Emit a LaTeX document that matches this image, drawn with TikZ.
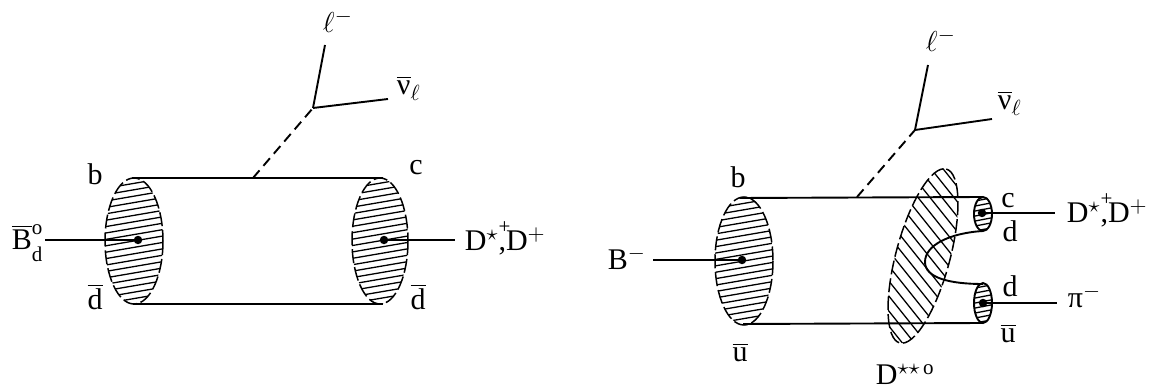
\documentclass[tikz,border=0pt]{standalone}
\usepackage{amsmath}
\usepackage{fontspec}
\setmainfont{Liberation Serif}
\begin{document}
\begin{tikzpicture}[x=0.5pt,y=-0.5pt,line width=0.95pt,
    lab/.style={font=\fontsize{15}{18}\selectfont,inner sep=0pt,anchor=base},
    hatch/.style={line width=0.65pt},
    rim/.style={line width=0.75pt,dash pattern=on 7pt off 2pt},
    wline/.style={dash pattern=on 5pt off 3pt}]
  \useasboundingbox (0,0) rectangle (1153,389);

  %% B0bar -> (D*+, D+) l- nubar
  % BLOBS
      % B end (b, dbar)
      \begin{scope}
        \clip (134,241) ellipse [x radius=29, y radius=63];
        \foreach \k in {0,...,26}
          \draw[hatch] (100,{170+6.4*\k}) -- (170,{158+6.4*\k});
      \end{scope}
      \draw[rim] (134,241) ellipse [x radius=29, y radius=63];
      \draw[fill] (138,240) circle (1.6pt)
      +(0,0) coordinate (qB)   % dot of the B
      ;

      % D end (c, dbar)
      \begin{scope}
        \clip (380,241) ellipse [x radius=28, y radius=63];
        \foreach \k in {0,...,26}
          \draw[hatch] (345,{170+6.4*\k}) -- (415,{158+6.4*\k});
      \end{scope}
      \draw[rim] (380,241) ellipse [x radius=28, y radius=63];
      \draw[fill] (384,240) circle (1.6pt)
      +(0,0) coordinate (qD)   % dot of the D
      ;

  % QUARK LINES
      \coordinate (b1) at (132,178);
      \coordinate (c1) at (383,178);
      \coordinate (d1) at (133,304);
      \coordinate (d2) at (383,304);
      \draw (b1) -- (c1);
      \draw (d1) -- (d2);

  % W AND LEPTONS
      \coordinate (w1) at (253,178);
      \coordinate (v1) at (313,108);
      \coordinate (l1) at (325,45);
      \coordinate (n1) at (388,99);
      \draw[wline] (w1) -- (v1);
      \draw (v1) -- (l1);
      \draw (v1) -- (n1);

  % MESONS
      \coordinate (inB) at (45,240);
      \coordinate (outD) at (455,240);
      \draw (inB) -- (qB);
      \draw (qD) -- (outD);
      \node[lab,anchor=base west] (B0) at (11,250)
        {$\overline{\text{B}}{}^{\raisebox{0.4ex}{\fontsize{10.5}{12}\selectfont o}}_{\raisebox{-0.3ex}{\fontsize{10.5}{12}\selectfont d}}$};
      \node[lab,anchor=base west] (Dp) at (464,251)
        {D$^{\star}$\rlap{\raisebox{1.3ex}{\fontsize{10.5}{12}\selectfont +}},D$^{+}$};

  % LABELS
      \node[lab] (lb1) at (95,185) {b};
      \node[lab] (lc1) at (416,175) {c};
      \node[lab] (ld1) at (95,310) {$\overline{\text{d}}$};
      \node[lab] (ld2) at (418,310) {$\overline{\text{d}}$};
      \node[lab,anchor=base west] (ll1) at (322,33) {$\ell^{-}$};
      \node[lab,anchor=base west] (ln1) at (396,95) {$\overline{\text{ν}}_{\ell}$};

  %% B- -> D**0 -> (D*+, D+) pi-, l- nubar
  % BLOBS
      % B end (b, ubar)
      \begin{scope}
        \clip (744,261) ellipse [x radius=29, y radius=64];
        \foreach \k in {0,...,26}
          \draw[hatch] (710,{190+6.4*\k}) -- (780,{178+6.4*\k});
      \end{scope}
      \draw[rim] (744,261) ellipse [x radius=29, y radius=64];
      \draw[fill] (742,260) circle (1.6pt)
      +(0,0) coordinate (qBm)   % dot of the B-
      ;

      % D** (tilted)
      \begin{scope}
        \clip[rotate around={75:(923,256)}] (923,256) ellipse [x radius=90, y radius=27];
        \foreach \k in {0,...,22}
          \draw[hatch] ({736+12*\k},150) -- ({896+12*\k},350);
      \end{scope}
      \draw[rim,rotate around={75:(923,256)}] (923,256) ellipse [x radius=90, y radius=27];

      % end of the D (c, d)
      \begin{scope}
        \clip (983,214) ellipse [x radius=9, y radius=17];
        \foreach \k in {0,...,9}
          \draw[hatch] (970,{197+5*\k}) -- (996,{192+5*\k});
      \end{scope}
      \draw (983,214) ellipse [x radius=9, y radius=17];
      \draw[fill] (982,213) circle (1.6pt)
      +(0,0) coordinate (qDp)   % dot of the D
      ;

      % end of the pi (d, ubar)
      \begin{scope}
        \clip (983,303) ellipse [x radius=9, y radius=20];
        \foreach \k in {0,...,10}
          \draw[hatch] (970,{284+5*\k}) -- (996,{279+5*\k});
      \end{scope}
      \draw (983,303) ellipse [x radius=9, y radius=20];
      \draw[fill] (983,303) circle (1.6pt)
      +(0,0) coordinate (qPi)   % dot of the pi
      ;

  % QUARK LINES
      \coordinate (b2) at (740,198);
      \coordinate (c2) at (983,197);
      \coordinate (u2) at (743,324);
      \coordinate (u3) at (983,323);
      \draw (b2) -- (c2);
      \draw (u2) -- (u3);
      % d dbar pair
      \draw (983,231) .. controls (950,233) and (925,245) .. (925,262)
            .. controls (925,278) and (950,284) .. (983,284);

  % W AND LEPTONS
      \coordinate (w2) at (857,197);
      \coordinate (v2) at (915,130);
      \coordinate (l2) at (928,65);
      \coordinate (n2) at (992,119);
      \draw[wline] (w2) -- (v2);
      \draw (v2) -- (l2);
      \draw (v2) -- (n2);

  % MESONS
      \coordinate (inBm) at (653,260);
      \coordinate (outDp) at (1055,213);
      \coordinate (outPi) at (1057,303);
      \draw (inBm) -- (qBm);
      \draw (qDp) -- (outDp);
      \draw (qPi) -- (outPi);
      \node[lab,anchor=base west] (Bm) at (607,270) {B$^{-}$};
      \node[lab,anchor=base west] (Dp2) at (1066,223)
        {D$^{\star}$\rlap{\raisebox{1.3ex}{\fontsize{10.5}{12}\selectfont +}},D$^{+}$};
      \node[lab,anchor=base west] (Pim) at (1067,308) {π$^{-}$};
      \node[lab,anchor=base west] (Dss) at (875,385)
        {D$^{\star\star\,\text{o}}$};

  % LABELS
      \node[lab] (lb2) at (738,188) {b};
      \node[lab] (lu2) at (740,362) {$\overline{\text{u}}$};
      \node[lab] (lc2) at (1008,208) {c};
      \node[lab] (ld3) at (1010,242) {d};
      \node[lab] (ld4) at (1010,297) {d};
      \node[lab] (lu3) at (1008,343) {$\overline{\text{u}}$};
      \node[lab,anchor=base west] (ll2) at (925,52) {$\ell^{-}$};
      \node[lab,anchor=base west] (ln2) at (997,110) {$\overline{\text{ν}}_{\ell}$};
\end{tikzpicture}
\end{document}
